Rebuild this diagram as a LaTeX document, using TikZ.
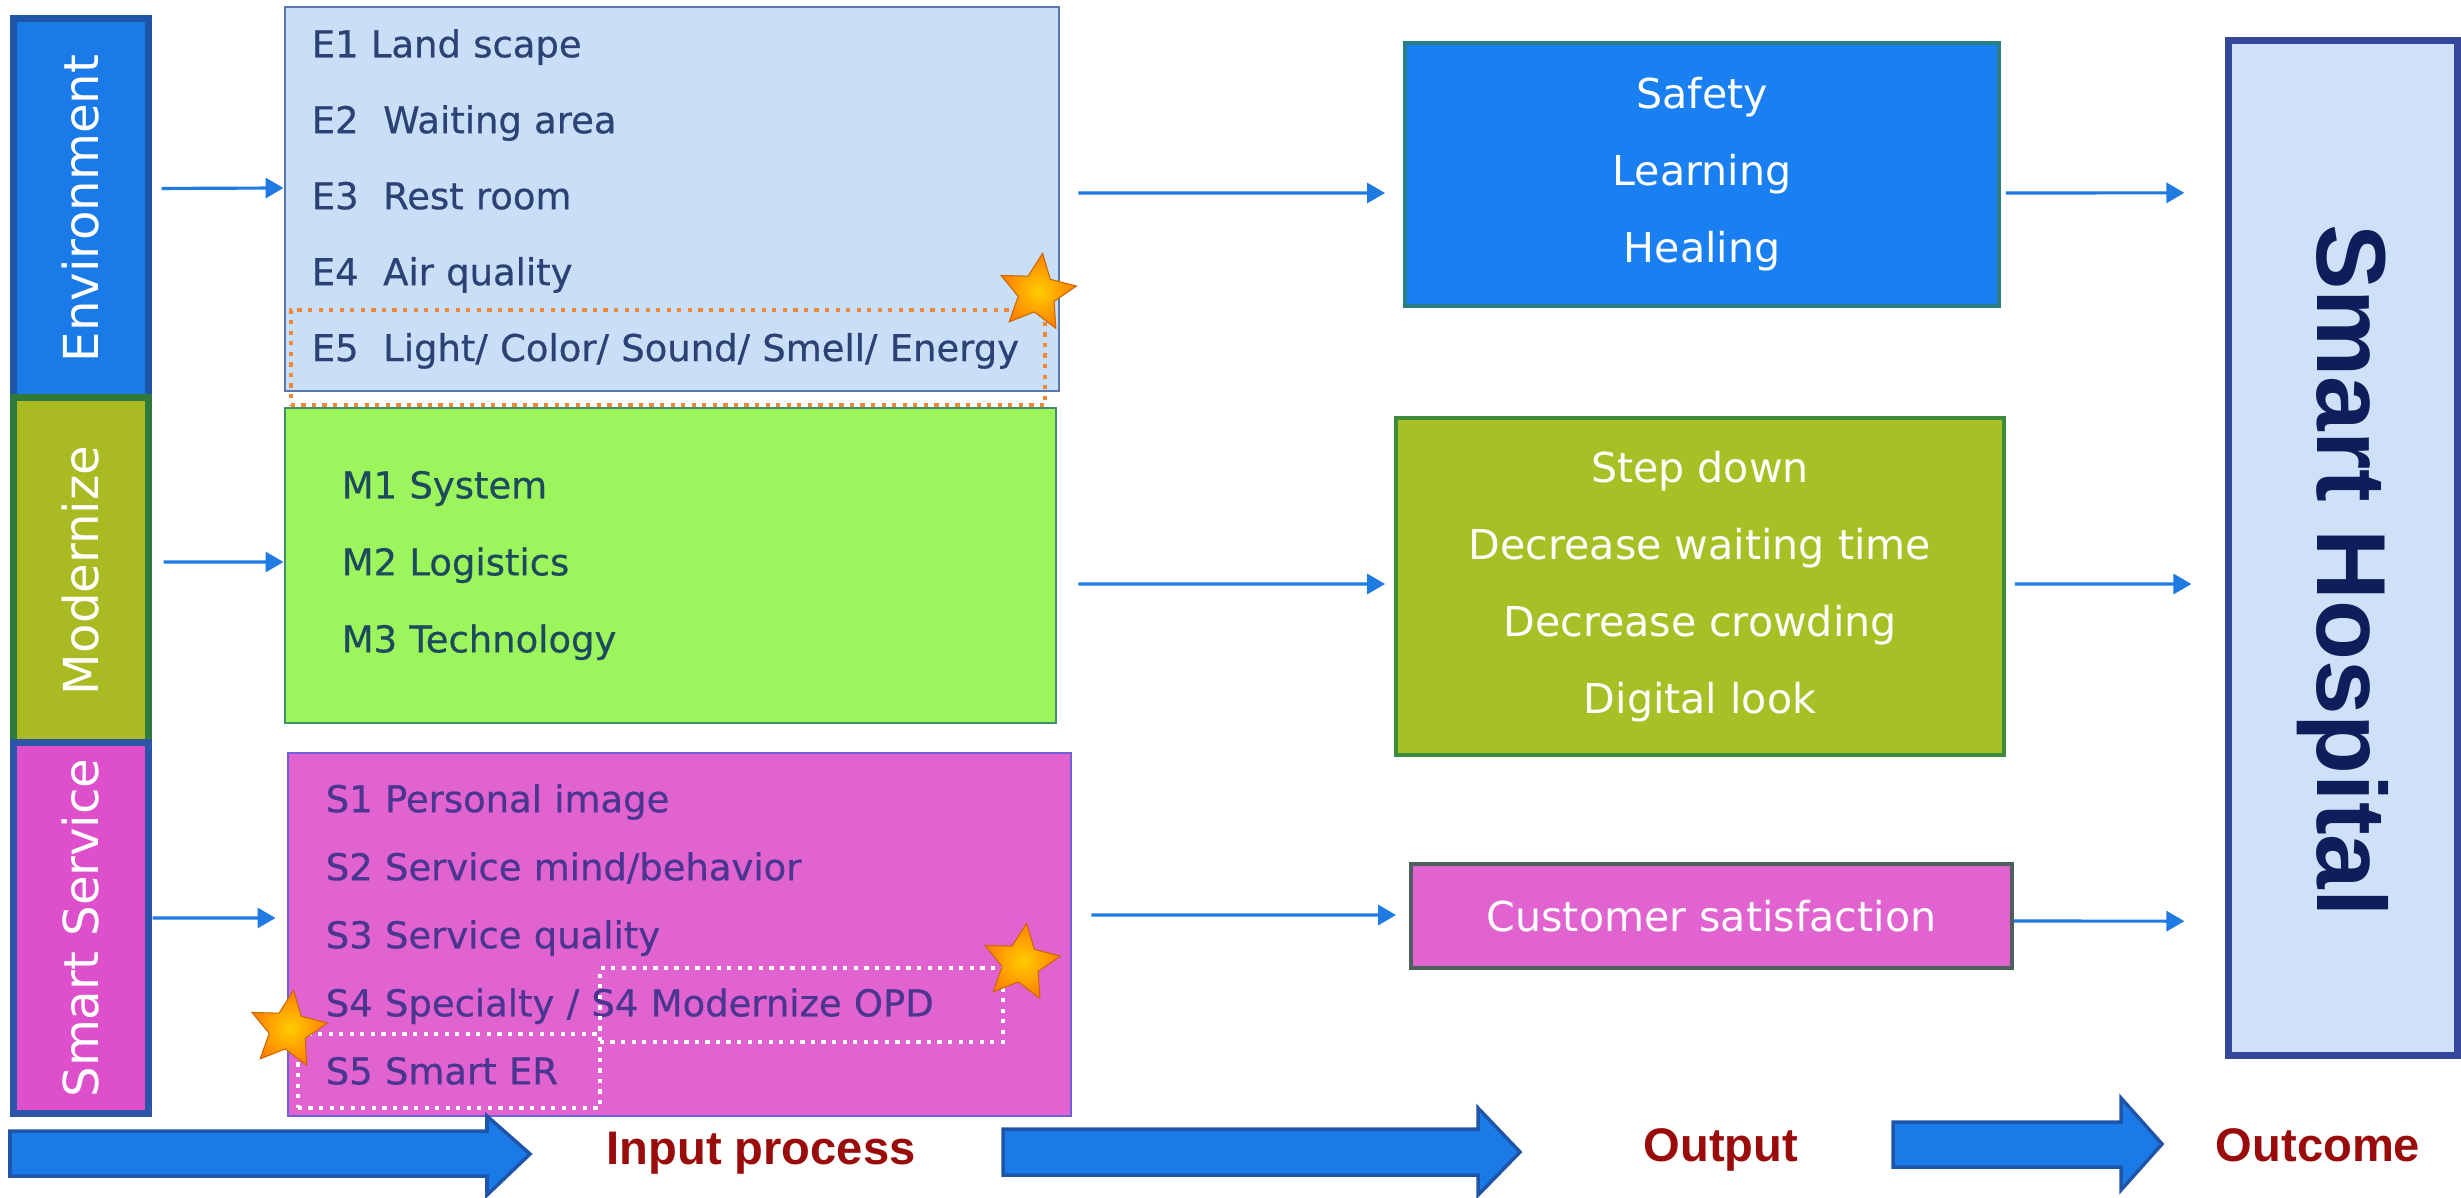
\documentclass[tikz,border=0pt]{standalone}
\usepackage{fontspec}
\setmainfont{DejaVu Sans}
\newfontfamily\itemfont[FakeBold=0.6]{DejaVu Sans}
\newfontfamily\headfont{Liberation Sans}
\usetikzlibrary{arrows.meta,shapes.geometric}

\definecolor{envblue}{HTML}{1A7BE8}
\definecolor{envline}{HTML}{1F55A8}
\definecolor{modolive}{HTML}{A9BA22}
\definecolor{modline}{HTML}{2F7A3A}
\definecolor{svcpink}{HTML}{DE4FCB}
\definecolor{svcline}{HTML}{2C54A8}
\definecolor{ebg}{HTML}{C9DEF7}
\definecolor{eline}{HTML}{5B78B0}
\definecolor{etext}{HTML}{2C4275}
\definecolor{mbg}{HTML}{9CF55C}
\definecolor{mline}{HTML}{3F8F6A}
\definecolor{mtext}{HTML}{1E4A5E}
\definecolor{sbg}{HTML}{E063CF}
\definecolor{sline}{HTML}{6F62D8}
\definecolor{stext}{HTML}{4A3590}
\definecolor{safeblue}{HTML}{1A80F2}
\definecolor{safeline}{HTML}{2A7F86}
\definecolor{stepolive}{HTML}{A8C026}
\definecolor{stepline}{HTML}{3C8A3C}
\definecolor{custline}{HTML}{4F5F5F}
\definecolor{hospbg}{HTML}{CFE1F8}
\definecolor{hospline}{HTML}{34479C}
\definecolor{hosptext}{HTML}{0E1E5B}
\definecolor{flowblue}{HTML}{1F7AE2}
\definecolor{labelred}{HTML}{9A0B0B}
\definecolor{hlorange}{HTML}{F0883A}

\tikzset{
  bar/.style={draw,line width=2pt,minimum width=1.34cm,inner sep=0pt,text=white,
    font=\fontsize{13.7pt}{16pt}\selectfont},
  listbox/.style={draw,line width=0.7pt,inner ysep=0pt,align=left,
    font=\itemfont\fontsize{10.5pt}{21.6pt}\selectfont},
  outbox/.style={draw,line width=1pt,inner sep=0pt,align=center,text=white,
    font=\fontsize{11.7pt}{21.9pt}\selectfont},
  flow/.style={flowblue,line width=0.9pt,-{Triangle[length=0.18cm,width=0.2cm]}},
  hilite/.style={line width=1.2pt,dash pattern=on 1.2pt off 1.8pt,inner sep=0pt},
  goldstar/.style={star,star points=5,star point ratio=2.1,minimum size=0.8cm,inner sep=0pt,
    draw=orange!80!black,line width=0.3pt,inner color=yellow!60!orange,outer color=orange},
  bigarrow/.style={fill=envblue,draw=envline,line width=1pt},
  steplabel/.style={text=labelred,font=\headfont\bfseries\fontsize{13.4pt}{16pt}\selectfont}
}

\begin{document}
\begin{tikzpicture}[x=0.01cm,y=-0.01cm]
\useasboundingbox (0,0) rectangle (2461,1197);

% the three input groups
\node(env)[bar,fill=envblue,draw=envline,minimum height=3.79cm] at (81,208.5) {\rotatebox{90}{Environment}};
\node(mod)[bar,fill=modolive,draw=modline,minimum height=3.45cm] at (81,570.5) {\rotatebox{90}{Modernize}};
\node(svc)[bar,fill=svcpink,draw=svcline,minimum height=3.70cm] at (81,928) {\rotatebox{90}{Smart Service}};

\node(E)[listbox,fill=ebg,draw=eline,text=etext,text width=7.20cm,inner xsep=0.27cm,minimum height=3.84cm] at (672,199)
  {E1 Land scape\\E2~ Waiting area\\E3~ Rest room\\E4~ Air quality\\E5~ Light/ Color/ Sound/ Smell/ Energy};
\node(M)[listbox,fill=mbg,draw=mline,text=mtext,text width=6.57cm,inner xsep=0.57cm,minimum height=3.15cm,
  font=\itemfont\fontsize{10.5pt}{21.9pt}\selectfont] at (670.5,565.5)
  {M1 System\\M2 Logistics\\M3 Technology};
\node(S)[listbox,fill=sbg,draw=sline,text=stext,text width=7.07cm,inner xsep=0.38cm,minimum height=3.63cm,
  font=\itemfont\fontsize{10.5pt}{19.35pt}\selectfont] at (679.5,934.5)
  {S1 Personal image\\S2 Service mind/behavior\\S3 Service quality\\S4 Specialty / S4 Modernize OPD\\S5 Smart ER};

% highlighted items
\node(hlE)[hilite,draw=hlorange,minimum width=7.54cm,minimum height=0.95cm] at (668,357.5) {};
\node(hlOPD)[hilite,draw=white,minimum width=4.03cm,minimum height=0.74cm] at (801.5,1005) {};
\node(hlER)[hilite,draw=white,minimum width=3.02cm,minimum height=0.74cm] at (449,1071) {};
\node(starE)[goldstar,rotate=-8] at (1037,293) {};
\node(starOPD)[goldstar,rotate=-8] at (1021,963) {};
\node(starER)[goldstar,rotate=-8] at (288,1030) {};

% outputs
\node(safe)[outbox,fill=safeblue,draw=safeline,minimum width=5.94cm,minimum height=2.63cm] at (1702,174.5)
  {Safety\\Learning\\Healing};
\node(step)[outbox,fill=stepolive,draw=stepline,minimum width=6.08cm,minimum height=3.37cm] at (1700,586.5)
  {Step down\\Decrease waiting time\\Decrease crowding\\Digital look};
\node(cust)[outbox,fill=sbg,draw=custline,minimum width=6.01cm,minimum height=1.04cm] at (1711.5,916)
  {Customer satisfaction};

% outcome
\node(hosp)[draw=hospline,line width=2pt,fill=hospbg,minimum width=2.28cm,minimum height=10.14cm,inner sep=0pt,
  text=hosptext,font=\headfont\bfseries\fontsize{27.9pt}{32pt}\selectfont] at (2343,548)
  {\rotatebox{-90}{\hspace{0.45cm}Smart Hospital}};

\draw[flow,shorten <=0.1cm] ([yshift=2mm]env.east) -- ([yshift=1.1mm]E.west);
\draw[flow,shorten <=0.12cm] ([yshift=0.85mm]mod.east) -- ([yshift=0.35mm]M.west);
\draw[flow,shorten <=0.01cm,shorten >=0.11cm] ([yshift=1mm]svc.east) -- ([yshift=1.65mm]S.west);

\draw[flow,shorten <=0.18cm,shorten >=0.18cm] ([yshift=0.6mm]E.east) -- ([yshift=-1.85mm]safe.west);
\draw[flow,shorten <=0.21cm,shorten >=0.09cm] ([yshift=-1.85mm]M.east) -- ([yshift=0.25mm]step.west);
\draw[flow,shorten <=0.19cm,shorten >=0.13cm] ([yshift=1.95mm]S.east) -- ([yshift=0.1mm]cust.west);

\draw[flow,shorten <=0.05cm,shorten >=0.41cm] ([yshift=-1.85mm]safe.east) -- ([yshift=35.5mm]hosp.west);
\draw[flow,shorten <=0.09cm,shorten >=0.34cm] ([yshift=0.25mm]step.east) -- ([yshift=-3.6mm]hosp.west);
\draw[flow,shorten >=0.41cm] ([yshift=-0.5mm]cust.east) -- ([yshift=-37.3mm]hosp.west);

% stage arrows along the bottom
\draw[bigarrow] (10,1131) -- (487,1131) -- (487,1116) -- (530,1154) -- (487,1195) -- (487,1176) -- (10,1176) -- cycle;
\draw[bigarrow] (1003,1129) -- (1478,1129) -- (1478,1108) -- (1520,1152) -- (1478,1195) -- (1478,1175) -- (1003,1175) -- cycle;
\draw[bigarrow] (1893,1122) -- (2121,1122) -- (2121,1098) -- (2162,1144) -- (2121,1190) -- (2121,1167) -- (1893,1167) -- cycle;

\node(inproc)[steplabel] at (761,1153) {Input process};
\node(output)[steplabel] at (1721,1150) {Output};
\node(outcome)[steplabel] at (2318,1145) {Outcome};

\end{tikzpicture}
\end{document}
